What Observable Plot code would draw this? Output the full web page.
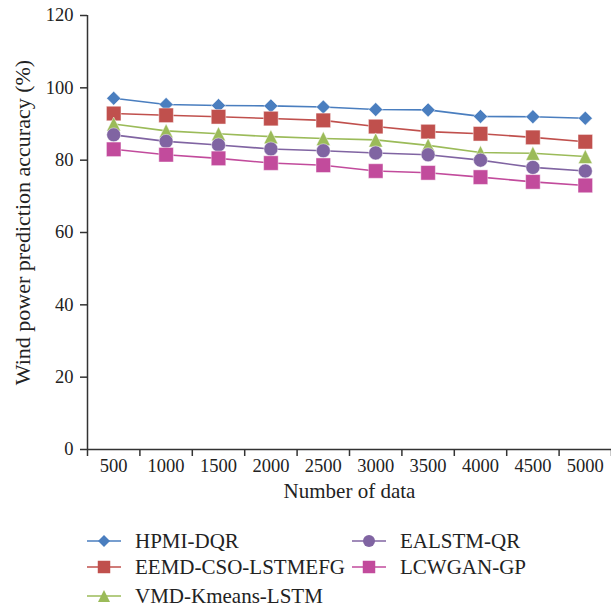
<!DOCTYPE html>
<html>
<head>
<meta charset="utf-8">
<script src="https://cdn.jsdelivr.net/npm/d3@7"></script>
<script src="https://cdn.jsdelivr.net/npm/@observablehq/plot@0.6"></script>
<style>
  body { margin: 0; background: white; }
  #chart { width: 611px; }
  svg { display: block; }
</style>
</head>
<body>
<div id="chart"></div>
<script>
// ---- data ----
const xLabels = ["500", "1000", "1500", "2000", "2500", "3000", "3500", "4000", "4500", "5000"];
const yTicks = [0, 20, 40, 60, 80, 100, 120];
const seriesNames = ["HPMI-DQR", "EEMD-CSO-LSTMEFG", "VMD-Kmeans-LSTM", "EALSTM-QR", "LCWGAN-GP"];
const hpmiDqr   = [97.1, 95.4, 95.1, 95.0, 94.7, 94.0, 93.9, 92.1, 92.0, 91.6];
const eemdCso   = [92.9, 92.4, 92.0, 91.5, 91.0, 89.3, 87.9, 87.3, 86.3, 85.1];
const vmdKmeans = [90.0, 88.1, 87.3, 86.5, 86.0, 85.6, 84.1, 82.1, 81.9, 81.0];
const ealstmQr  = [87.0, 85.2, 84.2, 83.1, 82.6, 82.0, 81.5, 80.0, 78.0, 77.0];
const lcwganGp  = [83.0, 81.5, 80.5, 79.2, 78.6, 77.0, 76.5, 75.3, 74.0, 73.0];
const seriesValues = [hpmiDqr, eemdCso, vmdKmeans, ealstmQr, lcwganGp];
const seriesColors = ["#4a7ebf", "#c0504d", "#9bbb59", "#8064a2", "#c24b9c"];
const xTitle = "Number of data";
const yTitle = "Wind power prediction accuracy (%)";

// ---- symbols (bounding-box centred, size -> r) ----
const rad = size => Math.sqrt(size / Math.PI);
const symDiamond = {draw(c, size) { const s = rad(size); c.moveTo(0, -s); c.lineTo(s, 0); c.lineTo(0, s); c.lineTo(-s, 0); c.closePath(); }};
const symSquare = {draw(c, size) { const s = rad(size) * 1.04; c.rect(-s, -s, 2 * s, 2 * s); }};
const symTriangle = {draw(c, size) { const s = rad(size); c.moveTo(0, -s); c.lineTo(s, s); c.lineTo(-s, s); c.closePath(); }};
const symCircle = {draw(c, size) { const s = rad(size); c.moveTo(s, 0); c.arc(0, 0, s, 0, 2 * Math.PI); }};
const seriesSymbols = [symDiamond, symSquare, symTriangle, symCircle, symSquare];

const FONT = "'Liberation Serif', 'DejaVu Serif', serif";

const marks = [
  Plot.axisY({ticks: yTicks, tickSize: 7, tickPadding: 7, label: null, strokeWidth: 1.5, stroke: "#333", fontSize: 18.5}),
  Plot.axisX({ticks: d3.range(0, xLabels.length + 1), tickSize: 7, tickFormat: () => "", label: null, strokeWidth: 1.5, stroke: "#333"}),
  Plot.axisX({ticks: xLabels.map((_, i) => i + 0.5), tickSize: 0, tickPadding: 9, tickFormat: t => xLabels[Math.floor(t)], label: null, fontSize: 18.5}),
  Plot.ruleX([0], {stroke: "#333", strokeWidth: 1.5}),
  Plot.ruleY([0], {stroke: "#333", strokeWidth: 1.5}),
];

seriesNames.forEach((name, k) => {
  const rows = seriesValues[k].map((v, i) => ({x: i + 0.5, y: v}));
  marks.push(Plot.line(rows, {x: "x", y: "y", stroke: seriesColors[k], strokeWidth: 1.6}));
  marks.push(Plot.dot(rows, {x: "x", y: "y", r: 7, symbol: seriesSymbols[k], fill: seriesColors[k], stroke: "white", strokeOpacity: 0.45, strokeWidth: 1}));
});

marks.push(Plot.text([yTitle], {frameAnchor: "left", textAnchor: "middle", rotate: -90, dx: -65, dy: -10, fontSize: 22, fill: "#222"}));
marks.push(Plot.text([xTitle], {frameAnchor: "bottom", dy: 48, fontSize: 21, fill: "#222"}));

const chart = Plot.plot({
  width: 611,
  height: 515,
  marginTop: 15,
  marginLeft: 87,
  marginRight: 0,
  marginBottom: 66,
  style: {fontFamily: FONT, fontSize: "18px", color: "#222", background: "white", overflow: "visible"},
  x: {domain: [0, xLabels.length], axis: null},
  y: {domain: [0, 120], axis: null},
  marks
});
document.getElementById("chart").appendChild(chart);

// ---- legend ----
const legend = d3.select("#chart").append("svg")
  .attr("width", 611).attr("height", 95)
  .style("font-family", FONT);
const legendPos = [[87, 26], [87, 52], [87, 81], [352, 26], [352, 52]];
seriesNames.forEach((name, k) => {
  const [lx, ly] = legendPos[k];
  const g = legend.append("g").attr("transform", `translate(${lx},${ly})`);
  g.append("line").attr("x1", 0).attr("x2", 34).attr("y1", 0).attr("y2", 0)
    .attr("stroke", seriesColors[k]).attr("stroke-width", 1.6);
  g.append("path").attr("transform", "translate(17,0)")
    .attr("d", d3.symbol(seriesSymbols[k], Math.PI * 36)())
    .attr("fill", seriesColors[k]);
  g.append("text").attr("x", 48).attr("y", 0).attr("dy", "0.35em")
    .attr("font-size", 21).attr("fill", "#222").text(name);
});
</script>
</body>
</html>
